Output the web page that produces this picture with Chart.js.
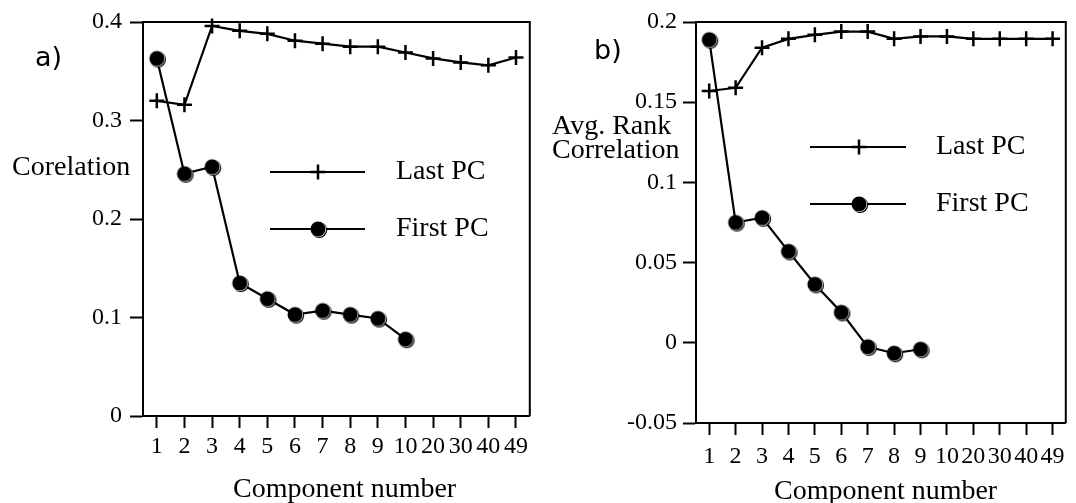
<!DOCTYPE html>
<html>
<head>
<meta charset="utf-8">
<script src="https://cdn.jsdelivr.net/npm/chart.js@4.4.1/dist/chart.umd.min.js"></script>
<style>
  html, body { margin: 0; padding: 0; background: #fff; }
  #wrap { position: relative; width: 1076px; height: 503px; overflow: hidden; }
  canvas { position: absolute; top: 0; }
  #chartA { left: 0; }
  #chartB { left: 540px; }
</style>
</head>
<body>
<div id="wrap">
  <canvas id="chartA" width="540" height="503"></canvas>
  <canvas id="chartB" width="536" height="503"></canvas>
</div>
<script>
// --- data ---
const components = ['1', '2', '3', '4', '5', '6', '7', '8', '9', '10', '20', '30', '40', '49'];

const lastPcA  = [0.320, 0.316, 0.396, 0.391, 0.388, 0.381, 0.378, 0.375, 0.375, 0.369, 0.363, 0.359, 0.356, 0.364];
const firstPcA = [0.363, 0.246, 0.253, 0.135, 0.119, 0.103, 0.107, 0.103, 0.099, 0.078, null, null, null, null];

const lastPcB  = [0.157, 0.159, 0.184, 0.1895, 0.192, 0.194, 0.194, 0.1895, 0.191, 0.191, 0.1895, 0.1895, 0.1895, 0.1895];
const firstPcB = [0.189, 0.075, 0.078, 0.057, 0.0365, 0.019, -0.0025, -0.0065, -0.004, null, null, null, null, null];

const yTicksA = [0, 0.1, 0.2, 0.3, 0.4];
const yTicksB = [-0.05, 0, 0.05, 0.1, 0.15, 0.2];

const serif = '"Liberation Serif", "Times New Roman", serif';

// shaded ball marker used for "First PC"
function makeDot() {
  const c = document.createElement('canvas');
  c.width = 22; c.height = 22;
  const g = c.getContext('2d');
  g.fillStyle = '#000';
  g.beginPath(); g.arc(12.2, 12.2, 7.9, 0, Math.PI * 2); g.fill();
  g.fillStyle = '#fff';
  g.beginPath(); g.arc(11.5, 11.5, 7.6, 0, Math.PI * 2); g.fill();
  g.fillStyle = '#000';
  g.beginPath(); g.arc(11, 11, 7.5, 0, Math.PI * 2); g.fill();
  return c;
}
const dot = makeDot();

// frame, axis captions and in-plot legend
const decor = {
  id: 'decor',
  afterDraw(chart, args, o) {
    const { ctx, chartArea: a } = chart;
    ctx.save();
    ctx.strokeStyle = '#000';
    ctx.fillStyle = '#000';
    ctx.lineWidth = 2;
    ctx.beginPath();
    ctx.moveTo(a.left, a.top);
    ctx.lineTo(a.right, a.top);
    ctx.lineTo(a.right, a.bottom);
    ctx.stroke();

    ctx.textBaseline = 'alphabetic';
    ctx.textAlign = 'left';
    ctx.font = '27px "DejaVu Sans", sans-serif';
    ctx.fillText(o.panel.text, o.panel.x, o.panel.y);

    ctx.font = '28px ' + serif;
    o.yTitle.lines.forEach((t, i) => ctx.fillText(t, o.yTitle.x, o.yTitle.y[i]));
    ctx.fillText(o.xTitle.text, o.xTitle.x, o.xTitle.y);

    const L = o.legend;
    chart.data.datasets.forEach((ds, i) => {
      const y = L.rows[i];
      ctx.lineWidth = 2;
      ctx.beginPath();
      ctx.moveTo(L.x1, y);
      ctx.lineTo(L.x2, y);
      ctx.stroke();
      if (ds.pointStyle === 'cross') {
        ctx.lineWidth = 2.5;
        ctx.beginPath();
        ctx.moveTo(L.xm - 7.5, y); ctx.lineTo(L.xm + 7.5, y);
        ctx.moveTo(L.xm, y - 7.5); ctx.lineTo(L.xm, y + 7.5);
        ctx.stroke();
      } else {
        ctx.drawImage(dot, L.xm - dot.width / 2, y - dot.height / 2);
      }
      ctx.fillText(ds.label, L.xt, y + 7);
    });
    ctx.restore();
  }
};

function makeChart(id, lastPc, firstPc, yTicks, geo, deco) {
  return new Chart(document.getElementById(id), {
    type: 'line',
    data: {
      labels: components,
      datasets: [
        {
          label: 'Last PC',
          data: lastPc,
          borderColor: '#000',
          borderWidth: 2.2,
          pointStyle: 'cross',
          pointRadius: 7.5,
          pointBorderWidth: 2.5,
          pointBorderColor: '#000',
          tension: 0,
          clip: false
        },
        {
          label: 'First PC',
          data: firstPc,
          borderColor: '#000',
          borderWidth: 2.2,
          pointStyle: dot,
          pointRadius: 8,
          tension: 0,
          clip: false
        }
      ]
    },
    options: {
      responsive: false,
      animation: false,
      events: [],
      layout: { padding: { left: 0, top: geo.top, right: geo.right, bottom: 0 } },
      plugins: { legend: { display: false }, tooltip: { enabled: false }, decor: deco },
      scales: {
        x: {
          type: 'category',
          offset: true,
          grid: { drawOnChartArea: false, offset: false, tickLength: 12, tickWidth: 2, tickColor: '#000' },
          border: { color: '#000', width: 2 },
          ticks: { color: '#000', font: { family: serif, size: 24 }, padding: geo.xPad, autoSkip: false, maxRotation: 0 },
          afterFit(s) { s.height = geo.xHeight; s.paddingLeft = 0; s.paddingRight = 0; }
        },
        y: {
          min: yTicks[0],
          max: yTicks[yTicks.length - 1],
          grid: { drawOnChartArea: false, tickLength: 13, tickWidth: 2, tickColor: '#000' },
          border: { color: '#000', width: 2 },
          ticks: {
            color: '#000',
            font: { family: serif, size: 24 },
            padding: geo.yPad,
            callback: v => String(parseFloat(Number(v).toFixed(2)))
          },
          afterBuildTicks(s) { s.ticks = yTicks.map(v => ({ value: v })); },
          afterFit(s) { s.width = geo.yWidth; s.paddingTop = 0; s.paddingBottom = 0; }
        }
      }
    },
    plugins: [decor]
  });
}

makeChart('chartA', lastPcA, firstPcA, yTicksA,
  { top: 22, right: 9, xHeight: 87, yWidth: 143, xPad: 4, yPad: 8 },
  {
    panel: { text: 'a)', x: 35, y: 66 },
    yTitle: { lines: ['Corelation'], x: 12, y: [175] },
    xTitle: { text: 'Component number', x: 233, y: 497 },
    legend: { x1: 270, x2: 365, xm: 318, xt: 396, rows: [172, 229] }
  });

makeChart('chartB', lastPcB, firstPcB, yTicksB,
  { top: 22, right: 3, xHeight: 80, yWidth: 156, xPad: 7, yPad: 6 },
  {
    panel: { text: 'b)', x: 54, y: 59 },
    yTitle: { lines: ['Avg. Rank', 'Correlation'], x: 12, y: [134, 158] },
    xTitle: { text: 'Component number', x: 234, y: 499 },
    legend: { x1: 270, x2: 366, xm: 319, xt: 396, rows: [147, 204] }
  });
</script>
</body>
</html>
